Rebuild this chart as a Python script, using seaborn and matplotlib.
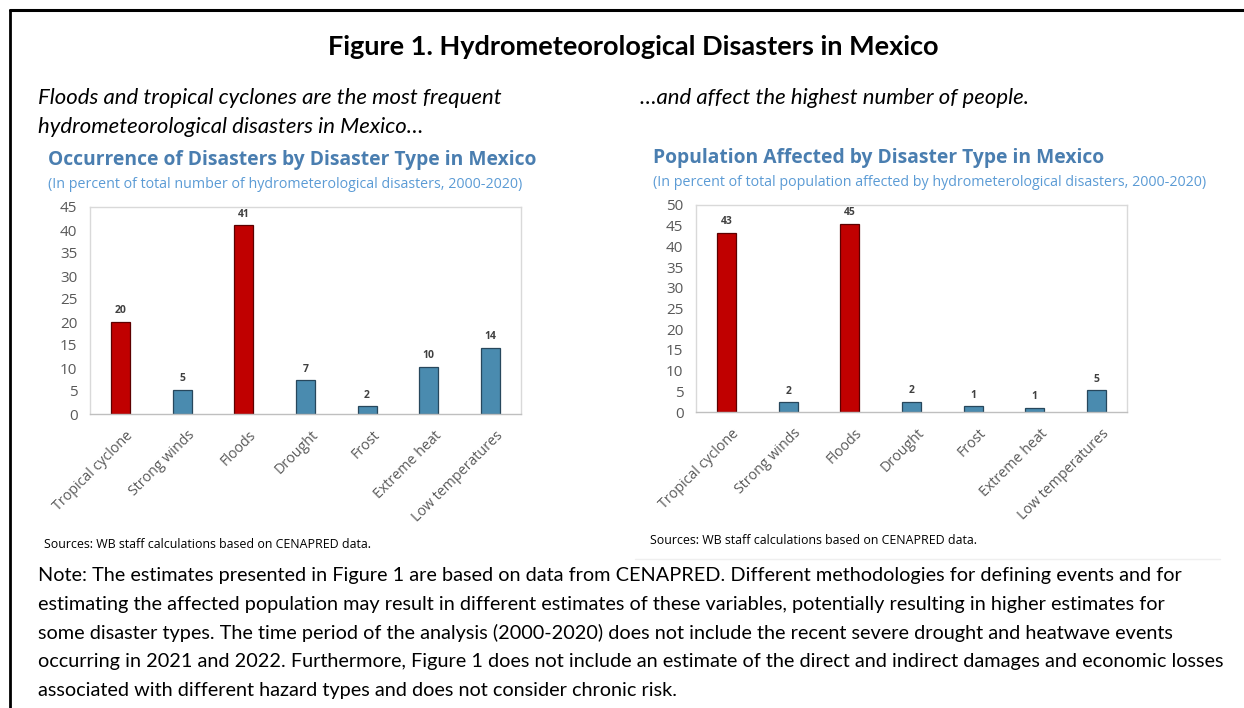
import matplotlib
matplotlib.use("Agg")
import matplotlib.pyplot as plt
from matplotlib.lines import Line2D
from matplotlib.ticker import MultipleLocator
from matplotlib.transforms import ScaledTranslation
import seaborn as sns
import pandas as pd

# --- data -------------------------------------------------------------
categories = ["Tropical cyclone", "Strong winds", "Floods", "Drought",
              "Frost", "Extreme heat", "Low temperatures"]
occurrence_pct = [20.0, 5.3, 41.0, 7.3, 1.7, 10.3, 14.4]
population_pct = [43.3, 2.4, 45.4, 2.5, 1.4, 1.0, 5.2]
highlight = ["Tropical cyclone", "Floods"]

W, H = 1244, 708
sns.set_theme(style="white")
plt.rcParams["font.family"] = ["Open Sans", "DejaVu Sans"]

fig = plt.figure(figsize=(W / 100, H / 100), dpi=100)
fig.patch.set_facecolor("white")

RED, RED_EDGE = "#C00000", "#5C0000"
BLUE, BLUE_EDGE = "#4A8BAF", "#27475C"
TITLE_BLUE = "#4A7EB0"
SUB_BLUE = "#5B9BD5"
GREY = "#595959"


def px_axes(left, top, right, bottom):
    return fig.add_axes([left / W, 1 - bottom / H, (right - left) / W, (bottom - top) / H])


def draw_panel(ax, values, ymax):
    df = pd.DataFrame({"type": categories, "value": values})
    df["group"] = ["hi" if c in highlight else "lo" for c in categories]
    sns.barplot(data=df, x="type", y="value", hue="group",
                palette={"hi": RED, "lo": BLUE}, order=categories,
                width=0.31, dodge=False, legend=False, saturation=1, ax=ax)
    for patch in ax.patches:
        is_red = patch.get_facecolor()[0] > 0.6
        patch.set_edgecolor(RED_EDGE if is_red else BLUE_EDGE)
        patch.set_linewidth(0.9)
    for c in ax.containers:
        ax.bar_label(c, labels=[f"{v:.0f}" if v == v and v > 0 else "" for v in c.datavalues],
                     padding=4, fontsize=7.5, fontweight="bold", color="#404040")
    ax.set_xlim(-0.5, len(categories) - 0.5)
    ax.set_ylim(0, ymax)
    ax.yaxis.set_major_locator(MultipleLocator(5))
    ax.set_xlabel("")
    ax.set_ylabel("")
    for s in ax.spines.values():
        s.set_visible(True)
        s.set_color("#D9D9D9")
        s.set_linewidth(1.0)
    ax.spines["bottom"].set_color("#BFBFBF")
    ax.tick_params(axis="y", length=0, labelsize=11, labelcolor=GREY, pad=9)
    ax.tick_params(axis="x", length=0, labelsize=10.3, labelcolor=GREY, pad=10)
    ax.set_xticks(range(len(categories)))
    ax.set_xticklabels(categories, rotation=45, ha="right", rotation_mode="anchor")
    shift = ScaledTranslation(5 / 100, 0, fig.dpi_scale_trans)
    for lbl in ax.get_xticklabels():
        lbl.set_transform(lbl.get_transform() + shift)
    ax.set_xticks([i + 0.5 for i in range(len(categories) - 1)], minor=True)
    ax.tick_params(axis="x", which="minor", length=4, color="#D9D9D9", width=1, direction="out")
    ax.grid(False)


ax1 = px_axes(90, 207, 521, 414)
draw_panel(ax1, occurrence_pct, 45)
ax2 = px_axes(696, 205, 1127, 412)
draw_panel(ax2, population_pct, 50)

# --- frame lines ------------------------------------------------------
fig.add_artist(Line2D([10 / W, 10 / W], [0, 1 - 10 / H], color="black", lw=2))
fig.add_artist(Line2D([10 / W, 1], [1 - 10 / H, 1 - 10 / H], color="black", lw=2.2))
fig.add_artist(Line2D([635 / W, 1220 / W], [1 - 559 / H, 1 - 559 / H], color="#EFEFEF", lw=1))


def txt(x, y, s, **kw):
    fig.text(x / W, 1 - y / H, s, **kw)


# --- headings -----------------------------------------------------------
txt(633, 47, "Figure 1. Hydrometeorological Disasters in Mexico", ha="center", va="center",
    fontsize=19.5, fontweight="bold", family=["Lato", "DejaVu Sans"], color="black")
txt(38, 98, "Floods and tropical cyclones are the most frequent", ha="left", va="center",
    fontsize=15.9, style="italic", family=["Lato", "DejaVu Sans"], color="black")
txt(38, 127, "hydrometeorological disasters in Mexico…", ha="left", va="center",
    fontsize=15.9, style="italic", family=["Lato", "DejaVu Sans"], color="black")
txt(640, 98, "…and affect the highest number of people.", ha="left", va="center",
    fontsize=15.9, style="italic", family=["Lato", "DejaVu Sans"], color="black")

txt(48, 160, "Occurrence of Disasters by Disaster Type in Mexico", ha="left", va="center",
    fontsize=13.9, fontweight="bold", color=TITLE_BLUE)
txt(48, 184, "(In percent of total number of hydrometerological disasters, 2000-2020)",
    ha="left", va="center", fontsize=10.3, color=SUB_BLUE)
txt(653, 158, "Population Affected by Disaster Type in Mexico", ha="left", va="center",
    fontsize=13.9, fontweight="bold", color=TITLE_BLUE)
txt(653, 182, "(In percent of total population affected by hydrometerological disasters, 2000-2020)",
    ha="left", va="center", fontsize=10.3, color=SUB_BLUE)

txt(44, 544, "Sources: WB staff calculations based on CENAPRED data.", ha="left", va="center",
    fontsize=8.9, color="black")
txt(650, 540, "Sources: WB staff calculations based on CENAPRED data.", ha="left", va="center",
    fontsize=8.9, color="black")

note_lines = [
    "Note: The estimates presented in Figure 1 are based on data from CENAPRED. Different methodologies for defining events and for",
    "estimating the affected population may result in different estimates of these variables, potentially resulting in higher estimates for",
    "some disaster types. The time period of the analysis (2000-2020) does not include the recent severe drought and heatwave events",
    "occurring in 2021 and 2022. Furthermore, Figure 1 does not include an estimate of the direct and indirect damages and economic losses",
    "associated with different hazard types and does not consider chronic risk.",
]
for i, line in enumerate(note_lines):
    txt(38, 576 + i * 28.6, line, ha="left", va="center", fontsize=14.3,
        family=["Lato", "DejaVu Sans"], color="black")

fig.savefig("out.png", dpi=100, facecolor="white")
